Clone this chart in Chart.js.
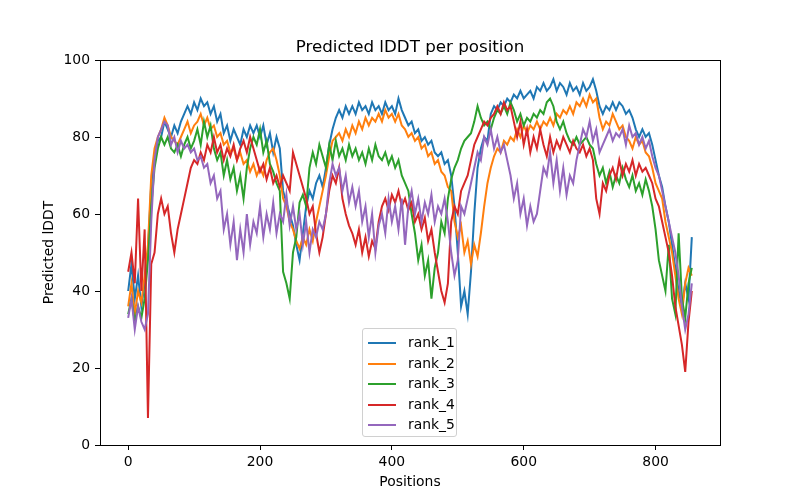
<!DOCTYPE html>
<html>
<head>
<meta charset="utf-8">
<script src="https://cdn.jsdelivr.net/npm/chart.js@4"></script>
<style>
  body { margin: 0; background: #fff; }
  #wrap { position: relative; width: 800px; height: 500px; }
  #title {
    position: absolute; left: 100px; width: 620px; top: 35px; line-height: 22px; text-align: center;
    font-family: "DejaVu Sans", sans-serif; font-size: 16.7px; color: #000;
  }
  #legend {
    position: absolute; left: 362px; top: 328px; width: 95px; height: 109px;
    border: 1px solid #d0d0d0; border-radius: 3px; background: rgba(255,255,255,0.8);
    box-sizing: border-box; font-family: "DejaVu Sans", sans-serif; font-size: 13.9px; color: #000;
  }
  .row { position: absolute; left: 0; height: 20px; width: 100%; }
  .row span.sw { position: absolute; left: 5px; top: 9px; width: 28px; height: 2px; }
  .row span.tx { position: absolute; left: 45px; top: 1px; }
</style>
</head>
<body>
<div id="wrap">
  <canvas id="myChart" width="800" height="500"></canvas>
  <div id="title">Predicted lDDT per position</div>
  <div id="legend"></div>
</div>
<script>
// predicted lDDT, sampled every 5 positions (0 .. 855)
const rank1 = [
  40,47,38,44,36,42,50,68,74,79,80,84,82,80,83,81,84,86,88,86,
  89,87,90,88,89,86,88,84,86,81,83,79,82,80,78,82,80,83,81,83,
  80,83,78,81,76,80,77,66,63,60,57,52,48,55,62,66,64,68,70,67,
  72,78,82,85,87,85,88,86,88,86,89,87,88,86,89,87,88,86,89,87,
  88,86,90,87,85,83,84,81,82,79,80,78,79,76,75,76,73,74,70,62,
  50,36,40,34,45,60,72,77,80,79,86,88,87,89,88,90,89,91,90,92,
  90,91,92,90,93,92,94,92,93,95,92,94,93,91,94,92,93,91,94,92,
  93,95,92,88,86,88,87,89,87,89,88,86,87,85,82,80,82,80,81,78,
  74,70,67,62,58,52,46,40,36,42,38,54
];
const rank2 = [
  36,42,34,40,37,44,52,70,77,80,82,85,83,80,79,78,80,82,84,81,
  83,84,86,83,85,82,83,80,81,78,79,76,77,74,76,73,74,71,73,70,
  72,70,74,76,77,74,70,64,62,58,56,53,51,54,52,56,53,58,62,66,
  70,75,79,80,81,79,82,80,83,81,84,82,85,83,85,84,86,84,87,85,
  86,84,86,83,82,80,81,79,80,77,78,75,76,73,74,71,70,67,66,58,
  54,57,50,53,47,52,49,55,62,68,72,75,77,76,79,78,80,79,82,80,
  83,81,83,82,84,82,84,83,85,83,86,85,87,86,88,86,89,88,90,88,
  91,89,90,85,82,84,83,86,84,82,83,80,79,77,80,78,79,76,75,72,
  68,66,64,58,54,50,44,38,34,42,46,44
];
const rank3 = [
  34,38,32,36,33,38,48,62,72,77,80,78,80,77,76,78,75,78,80,77,
  79,82,78,84,80,83,77,74,76,70,74,69,72,66,70,64,72,77,80,78,
  82,76,79,73,71,68,66,45,42,38,50,54,63,65,62,72,76,73,78,75,
  72,78,74,79,75,77,74,78,75,77,74,76,73,77,74,78,75,74,76,73,
  75,72,74,70,68,66,60,55,48,52,44,48,38,46,50,58,55,64,69,72,
  74,77,79,80,81,84,88,85,83,84,82,85,87,86,88,86,89,87,84,86,
  83,85,84,86,85,87,86,89,90,88,84,82,84,81,79,78,80,78,79,80,
  78,77,73,70,72,68,71,67,70,68,72,69,67,70,66,68,65,69,66,62,
  56,48,44,40,52,38,34,55,38,33,42,46
];
const rank4 = [
  45,50,42,64,40,56,7,47,50,60,64,60,62,55,50,56,60,64,68,72,
  74,73,76,74,78,76,80,76,78,74,77,75,78,74,77,79,76,80,77,74,
  71,73,69,72,68,70,67,70,68,66,76,73,70,67,64,60,62,55,50,54,
  60,66,70,68,72,64,60,57,55,52,56,50,54,49,53,51,58,62,64,61,
  65,63,66,62,64,61,63,58,60,56,59,53,56,50,45,40,37,42,58,62,
  60,66,68,70,74,78,80,82,84,83,85,86,88,86,89,87,88,84,80,84,
  78,82,76,80,77,82,78,75,80,76,79,77,80,78,76,79,77,76,78,75,
  77,74,64,60,68,66,70,72,69,74,70,73,71,74,70,73,71,72,70,68,
  64,62,58,54,50,44,36,31,26,19,32,40
];
const rank5 = [
  33,38,30,36,32,30,34,58,74,80,82,84,83,78,80,76,79,77,78,76,
  77,74,75,72,73,68,70,64,66,56,60,52,58,48,56,50,60,52,58,55,
  62,54,60,56,63,55,60,58,65,57,62,56,60,52,58,50,56,54,58,56,
  60,68,73,70,72,66,70,63,67,62,66,58,62,54,60,50,57,60,55,64,
  58,62,56,64,52,62,66,60,64,58,63,60,65,58,62,60,64,58,50,44,
  48,62,60,64,68,72,76,74,80,78,82,77,80,76,78,74,70,64,68,60,
  64,57,62,58,60,66,72,70,76,68,74,66,72,65,70,68,74,78,82,80,
  84,79,82,76,78,80,82,79,81,80,82,78,83,80,81,78,80,77,79,75,
  72,70,66,62,58,54,50,44,36,30,34,42
];
const positions = rank1.map((_, i) => i * 5);

const seriesNames = ["rank_1", "rank_2", "rank_3", "rank_4", "rank_5"];
const seriesColors = ["#1f77b4", "#ff7f0e", "#2ca02c", "#d62728", "#9467bd"];
const xTicks = [0, 200, 400, 600, 800];
const yTicks = [0, 20, 40, 60, 80, 100];

const allSeries = [rank1, rank2, rank3, rank4, rank5];
const font = "'DejaVu Sans', sans-serif";

// axes box like matplotlib (all four spines)
const frame = {
  id: "frame",
  afterDraw(chart) {
    const a = chart.chartArea;
    const ctx = chart.ctx;
    ctx.save();
    ctx.strokeStyle = "#000";
    ctx.lineWidth = 1;
    ctx.strokeRect(Math.round(a.left) + 0.5, Math.round(a.top) + 0.5,
      Math.round(a.right - a.left), Math.round(a.bottom - a.top));
    ctx.restore();
  }
};

let chart = new Chart(document.getElementById("myChart"), {
  type: "line",
  data: {
    datasets: allSeries.map((vals, i) => ({
      label: seriesNames[i],
      data: vals.map((v, j) => ({ x: positions[j], y: v })),
      borderColor: seriesColors[i],
      backgroundColor: seriesColors[i],
      borderWidth: 2,
      pointRadius: 0,
      tension: 0,
      order: 5 - i,
    })),
  },
  options: {
    responsive: false,
    animation: false,
    layout: { padding: { left: 0, right: 80, top: 60, bottom: 0 } },
    plugins: {
      legend: { display: false },
      tooltip: { enabled: false },
      title: { display: false },
    },
    scales: {
      x: {
        type: "linear",
        min: -42.75,
        max: 897.75,
        afterBuildTicks: (s) => { s.ticks = xTicks.map((v) => ({ value: v })); },
        afterFit: (s) => { s.height = 55; },
        grid: { drawOnChartArea: false, drawTicks: true, tickLength: 5, color: "#000" },
        border: { color: "#000" },
        ticks: { color: "#000", padding: 4, maxRotation: 0, font: { family: font, size: 13.9 } },
        title: {
          display: true, text: "Positions", color: "#000",
          font: { family: font, size: 13.9 }, padding: { top: 4, bottom: 9 },
        },
      },
      y: {
        min: 0,
        max: 100,
        afterBuildTicks: (s) => { s.ticks = yTicks.map((v) => ({ value: v })); },
        afterFit: (s) => { s.width = 100; },
        grid: { drawOnChartArea: false, drawTicks: true, tickLength: 5, color: "#000" },
        border: { color: "#000" },
        ticks: { color: "#000", padding: 5, font: { family: font, size: 13.9 } },
        title: {
          display: true, text: "Predicted lDDT", color: "#000",
          font: { family: font, size: 13.9 }, padding: { top: 41, bottom: 0 },
        },
      },
    },
  },
  plugins: [frame],
});

// legend box drawn as html, placed where matplotlib put it
const legend = document.getElementById("legend");
seriesNames.forEach((name, i) => {
  const row = document.createElement("div");
  row.className = "row";
  row.style.top = (4 + i * 20.5) + "px";
  row.innerHTML = '<span class="sw" style="background:' + seriesColors[i] + '"></span><span class="tx">' + name + "</span>";
  legend.appendChild(row);
});
</script>
</body>
</html>
